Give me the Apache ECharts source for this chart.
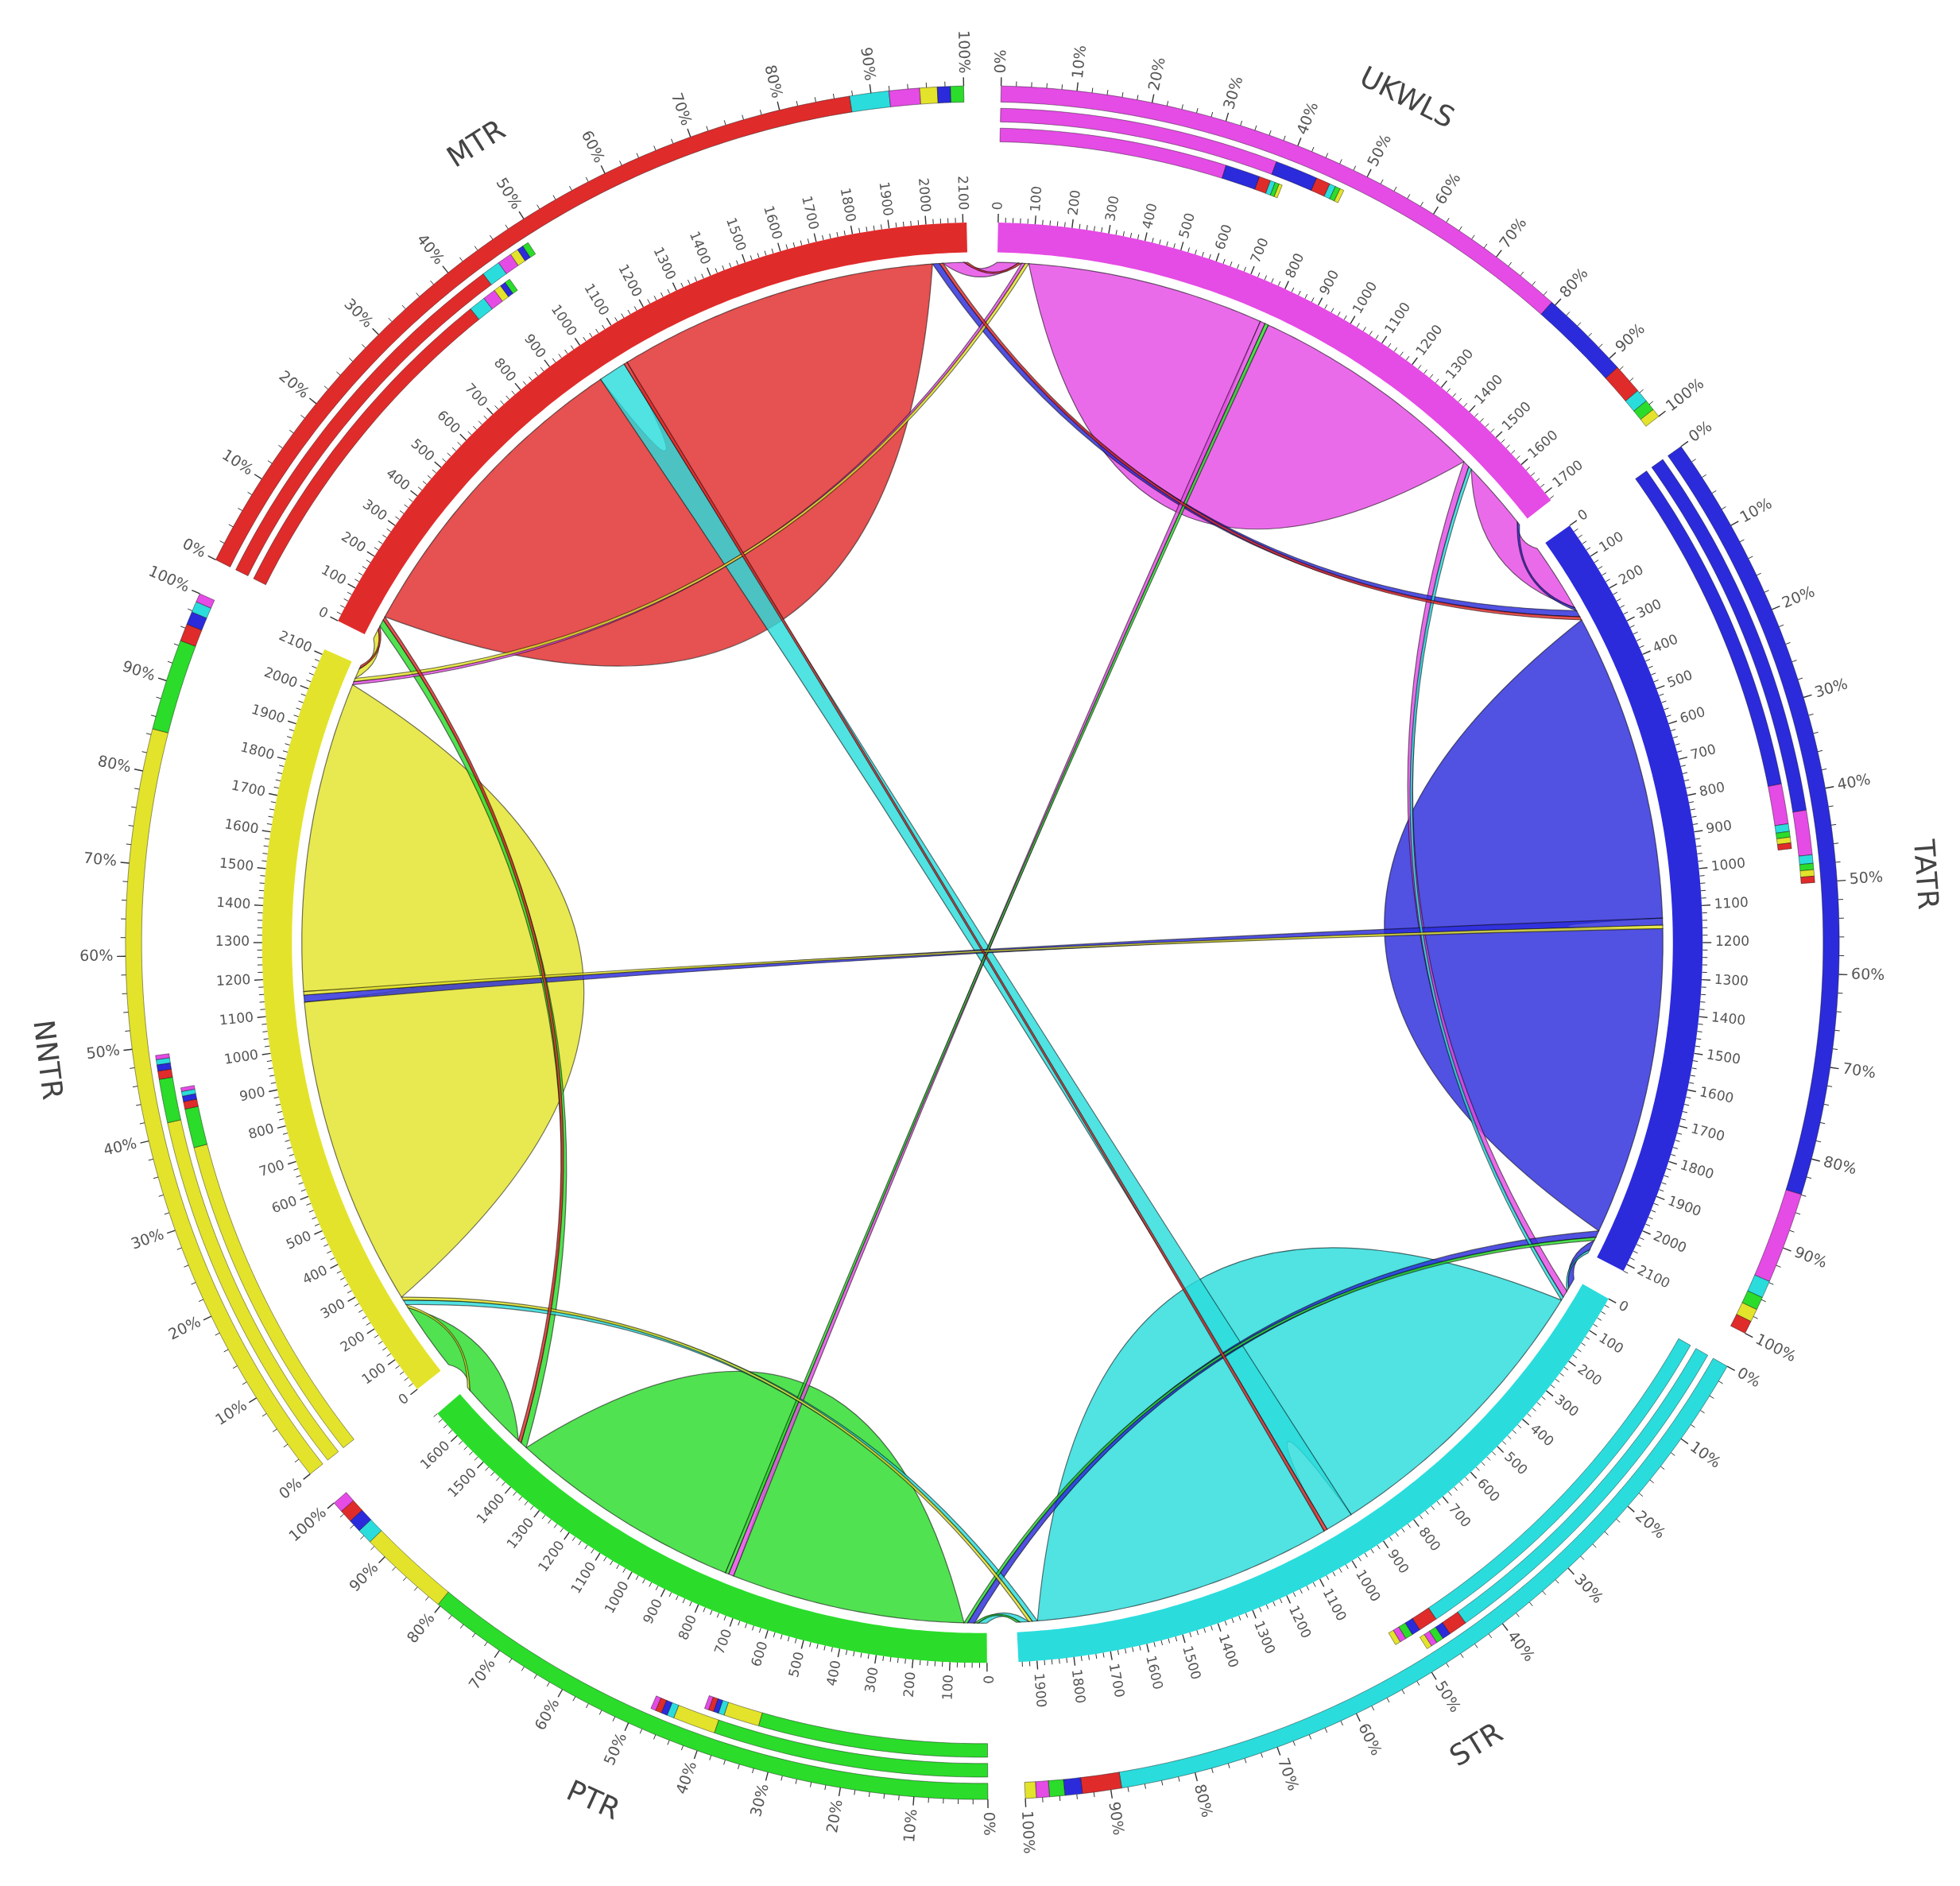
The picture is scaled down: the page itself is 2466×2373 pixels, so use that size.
<!DOCTYPE html>
<html><head><meta charset="utf-8">
<script src="https://cdn.jsdelivr.net/npm/echarts@6/dist/echarts.min.js"></script>
<style>body{margin:0;background:#fff}</style></head>
<body><div id="c" style="width:2466px;height:2373px"></div>
<script>
const groups = ['UKWLS','TATR','STR','PTR','NNTR','MTR'];
const groupColors = ['#e54be5','#2b2bdc','#2bdcdc','#2bdc2b','#e3e32b','#e02b2b'];
const linkSource = [0,0,0,0,0,0, 1,1,1,1,1, 2,2,2,2, 3,3,3, 4,4, 5, 1,2,2,3,3,3,4,4,4,4,5,5,5,5,5];
const linkTarget = [0,1,2,3,4,5, 1,2,3,4,5, 2,3,4,5, 3,4,5, 4,5, 5, 0,0,1,0,1,2,0,1,2,3,0,1,2,3,4];
const linkValue  = [685,200,20,15,10,60, 890,30,20,20,20, 865,25,15,80, 675,200,20, 895,30, 925, 10,10,10,10,10,10,10,10,10,10,10,10,10,10,10];
const innerTrackFrac = [0.40,0.46,0.52,0.41,0.45,0.45];
const midTrackFrac   = [0.48,0.50,0.49,0.48,0.49,0.49];

const GAP = 85;
const N = groups.length;
const totals = groups.map(()=>0);
const ends = groups.map(()=>[]);
linkValue.forEach((v,k)=>{
  const s=linkSource[k], t=linkTarget[k];
  if(s===t){ totals[s]+=2*v; ends[s].push({k,w:0,rank:3,v,o:s},{k,w:1,rank:3.2,v,o:s}); }
  else{
    totals[s]+=v; totals[t]+=v;
    const rk=d=>({5:0,4:1,3:3.1,2:4,1:5})[d];
    ends[s].push({k,w:0,rank:rk((t-s+N)%N),v,o:t});
    ends[t].push({k,w:1,rank:rk((s-t+N)%N),v,o:s});
  }
});
const AMAX = totals.reduce((a,b)=>a+b,0)+N*GAP;
const segStart=[]; let acc=GAP/2;
for(let i=0;i<N;i++){segStart.push(acc); acc+=totals[i]+GAP;}
const endPos = linkValue.map(()=>[null,null]);
const comp = groups.map(()=>[]);
for(let i=0;i<N;i++){
  ends[i].sort((a,b)=>a.rank-b.rank);
  let p=segStart[i];
  ends[i].forEach(e=>{endPos[e.k][e.w]=[p,p+e.v]; p+=e.v;});
  const self=ends[i].filter(e=>e.o===i).reduce((a,e)=>a+e.v,0);
  comp[i].push({c:groupColors[i],v:self});
  const oth={};
  ends[i].filter(e=>e.o!==i).forEach(e=>{oth[e.o]=(oth[e.o]||0)+e.v;});
  Object.keys(oth).sort((a,b)=>oth[b]-oth[a]).forEach(o=>comp[i].push({c:groupColors[o],v:oth[o]}));
}

const R_LINK=548, R_RING0=556, R_RING1=580;
function arc(api,r,a1,a2,n){const pts=[];for(let j=0;j<=n;j++){pts.push(api.coord([r,a1+(a2-a1)*j/n]));}return pts;}
function band(api,r0,r1,a1,a2){const n=Math.max(2,Math.ceil(Math.abs(a2-a1)/AMAX*720));return arc(api,r1,a1,a2,n).concat(arc(api,r0,a2,a1,n));}
function ctrl(api,r,a1,a2,selfOuter,selfInner){
  let d=Math.abs(a1-a2); let mid=(a1+a2)/2;
  if(d>AMAX/2){d=AMAX-d; mid=(mid+AMAX/2)%AMAX;}
  const deg=d/AMAX*360;
  let rc=r*Math.max(0,1-deg/150);
  if(selfOuter) rc=r*Math.max(0.05,1-deg/75);
  if(selfInner) rc=r*0.72;
  return api.coord([rc,mid]);
}
function fmt(p){return p[0].toFixed(1)+' '+p[1].toFixed(1);}
function ribbon(api,k){
  const self=linkSource[k]===linkTarget[k];
  const [a1,a2]=endPos[k][0],[b1,b2]=endPos[k][1];
  const A=arc(api,R_LINK,a1,a2,Math.max(2,Math.ceil((a2-a1)/AMAX*720)));
  const B=arc(api,R_LINK,b1,b2,Math.max(2,Math.ceil((b2-b1)/AMAX*720)));
  let d='M'+fmt(A[0]); A.slice(1).forEach(p=>d+=' L'+fmt(p));
  d+=' Q'+fmt(ctrl(api,R_LINK,a2,b1,false,self))+' '+fmt(B[0]);
  B.slice(1).forEach(p=>d+=' L'+fmt(p));
  d+=' Q'+fmt(ctrl(api,R_LINK,b2,a1,self,false))+' '+fmt(A[0])+' Z';
  return d;
}
function radialText(api,r,a,text,size,color){
  const p=api.coord([r,a]), c=api.coord([0,0]);
  const th=Math.atan2(p[1]-c[1],p[0]-c[0]);
  let rot=-th, align='left';
  if(Math.cos(th)<0){rot+=Math.PI; align='right';}
  return {type:'text',x:p[0],y:p[1],rotation:rot,style:{text,fontSize:size,fill:color,align,verticalAlign:'middle',fontFamily:'DejaVu Sans'}};
}
function tick(api,r0,r1,a,lw){const p=api.coord([r0,a]),q=api.coord([r1,a]);return {type:'line',shape:{x1:p[0],y1:p[1],x2:q[0],y2:q[1]},style:{stroke:'#333',lineWidth:lw}};}

const chart=echarts.init(document.getElementById('c'),null,{renderer:'canvas'});
chart.setOption({
  animation:false,
  polar:{center:[1236,1186],radius:1250},
  angleAxis:{type:'value',min:0,max:AMAX,startAngle:90,clockwise:true,show:false,axisLine:{show:false},splitLine:{show:false},axisLabel:{show:false},axisTick:{show:false}},
  radiusAxis:{type:'value',min:0,max:800,show:false,axisLine:{show:false},splitLine:{show:false},axisLabel:{show:false},axisTick:{show:false}},
  series:[
  {type:'custom',coordinateSystem:'polar',clip:false,
   data:linkValue.map((v,k)=>[R_LINK,endPos[k][0][0]]),
   renderItem(params,api){
     const k=params.dataIndex; const col=groupColors[linkSource[k]];
     const self=linkSource[k]===linkTarget[k];
     return {type:'path',shape:{pathData:ribbon(api,k)},
       style:{fill:echarts.color.modifyAlpha(col,0.82),stroke:'rgba(0,0,0,0.55)',lineWidth:1.2},
       z2: self?0:10-linkValue[k]/100};
   }},
  {type:'custom',coordinateSystem:'polar',clip:false,
   data:groups.map((g,i)=>[R_RING0,segStart[i]]),
   renderItem(params,api){
     const i=params.dataIndex, s=segStart[i], T=totals[i], col=groupColors[i];
     const ch=[];
     ch.push({type:'polygon',shape:{points:band(api,R_RING0,R_RING1,s,s+T)},style:{fill:col}});
     for(let v=0;v<=T;v+=20){const maj=v%100===0; ch.push(tick(api,R_RING1,R_RING1+(maj?7:4),s+v,maj?1.4:1));
       if(maj) ch.push(radialText(api,R_RING1+10,s+v,String(v),17,'#555'));}
     const tracks=[[645,656,innerTrackFrac[i]],[661,672,midTrackFrac[i]],[677,690,1]];
     const tot=comp[i].reduce((a,c)=>a+c.v,0);
     tracks.forEach(([r0,r1,f])=>{
       let p=s; comp[i].forEach(c=>{const w=c.v/tot*T*f; ch.push({type:'polygon',shape:{points:band(api,r0,r1,p,p+w)},style:{fill:c.c,stroke:'rgba(0,0,0,0.5)',lineWidth:0.8}}); p+=w;});
     });
     for(let q=0;q<=100;q+=2){const a=s+T*q/100; const maj=q%10===0; ch.push(tick(api,690,690+(maj?7:4),a,maj?1.4:1));
       if(maj) ch.push(radialText(api,700,a,q+'%',19,'#555'));}
     const p=api.coord([760,s+T/2]), c=api.coord([0,0]);
     const th=Math.atan2(p[1]-c[1],p[0]-c[0]);
     let rot=-th-Math.PI/2; if(Math.sin(th)>0.05) rot+=Math.PI;
     ch.push({type:'text',x:p[0],y:p[1],rotation:rot,style:{text:groups[i],fontSize:36,fill:'#444',align:'center',verticalAlign:'middle',fontFamily:'DejaVu Sans'}});
     return {type:'group',children:ch};
   }}
  ]
});
</script></body></html>
